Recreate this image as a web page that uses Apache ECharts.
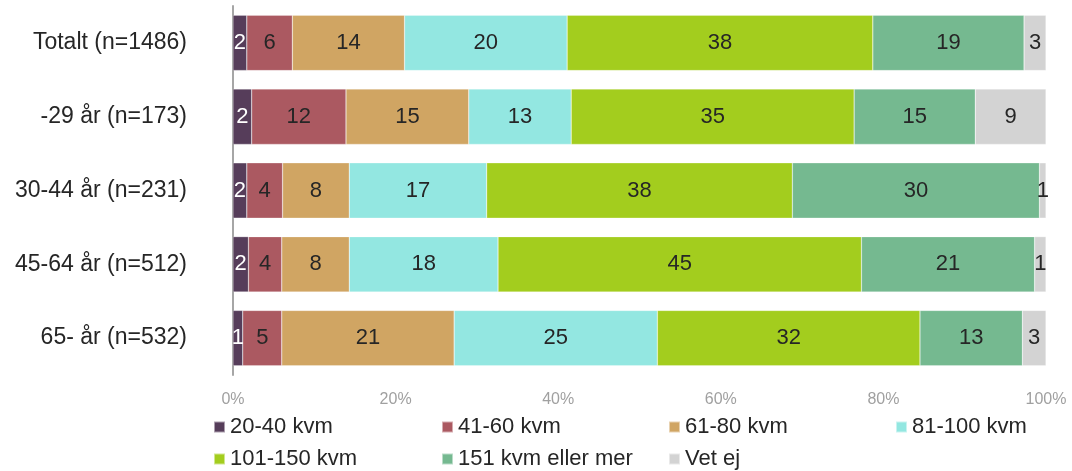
<!DOCTYPE html>
<html>
<head>
<meta charset="utf-8">
<script src="https://cdn.jsdelivr.net/npm/echarts@6/dist/echarts.min.js"></script>
<style>
  html, body { margin: 0; padding: 0; background: #fff; }
  #chart { width: 1072px; height: 471px; }
</style>
</head>
<body>
<div id="chart"></div>
<script>
// categories (top to bottom)
var groups = ['Totalt (n=1486)', '-29 år (n=173)', '30-44 år (n=231)', '45-64 år (n=512)', '65- år (n=532)']
var seriesNames = ['20-40 kvm', '41-60 kvm', '61-80 kvm', '81-100 kvm', '101-150 kvm', '151 kvm eller mer', 'Vet ej']

// shares in percent, one array per answer
var kvm20_40 = [1.7, 2.3, 1.7, 1.9, 1.2]
var kvm41_60 = [5.6, 11.6, 4.4, 4.1, 4.8]
var kvm61_80 = [13.8, 15.1, 8.2, 8.3, 21.2]
var kvm81_100 = [20.0, 12.6, 16.9, 18.3, 25.0]
var kvm101_150 = [37.6, 34.8, 37.6, 44.7, 32.3]
var kvm151 = [18.6, 14.9, 30.4, 21.3, 12.6]
var vetEj = [2.7, 8.7, 0.8, 1.4, 2.9]

var xTicks = [0, 20, 40, 60, 80, 100]

var colors = ['#563d5a', '#ab5961', '#d0a563', '#93e7e1', '#a3cd1e', '#75b990', '#d3d3d3']
var values = [kvm20_40, kvm41_60, kvm61_80, kvm81_100, kvm101_150, kvm151, vetEj]
var font = 'Liberation Sans, Arial, sans-serif'

var chart = echarts.init(document.getElementById('chart'), null, { renderer: 'canvas' })

var series = seriesNames.map(function (name, i) {
  return {
    name: name,
    type: 'bar',
    stack: 'total',
    barCategoryGap: '25%',
    data: values[i],
    itemStyle: {
      color: colors[i],
      borderColor: 'rgba(255,255,255,0.5)',
      borderWidth: 0.5
    },
    label: {
      show: true,
      position: 'inside',
      fontFamily: font,
      fontSize: 22,
      color: i === 0 ? '#ffffff' : '#262626',
      formatter: function (p) {
        return Math.round(p.value)
      }
    },
    animation: false
  }
})

// legend laid out in four fixed columns like the original
var legendCols = [
  { left: 213, data: ['20-40 kvm', '101-150 kvm'] },
  { left: 441, data: ['41-60 kvm', '151 kvm eller mer'] },
  { left: 668, data: ['61-80 kvm', 'Vet ej'] },
  { left: 895, data: ['81-100 kvm'] }
]
var legends = legendCols.map(function (c) {
  return {
    orient: 'vertical',
    left: c.left,
    top: 416,
    padding: 0,
    itemGap: 10,
    itemWidth: 11,
    itemHeight: 11,
    icon: 'rect',
    selectedMode: false,
    textStyle: { fontFamily: font, fontSize: 22, color: '#262626' },
    data: c.data
  }
})

chart.setOption({
  backgroundColor: '#fff',
  color: colors,
  grid: {
    left: 233,
    right: 26,
    top: 6,
    bottom: 96
  },
  legend: legends,
  xAxis: {
    type: 'value',
    min: xTicks[0],
    max: xTicks[xTicks.length - 1],
    interval: 20,
    axisLine: { show: false },
    axisTick: { show: false },
    splitLine: { show: false },
    axisLabel: {
      margin: 17,
      fontFamily: font,
      fontSize: 16,
      color: '#a0a0a0',
      formatter: '{value}%'
    }
  },
  yAxis: {
    type: 'category',
    inverse: true,
    data: groups,
    axisLine: { show: true, lineStyle: { color: '#a6a6a6', width: 2 } },
    axisTick: { show: false },
    axisLabel: {
      margin: 46,
      fontFamily: font,
      fontSize: 23,
      color: '#262626'
    }
  },
  series: series
})
</script>
</body>
</html>
